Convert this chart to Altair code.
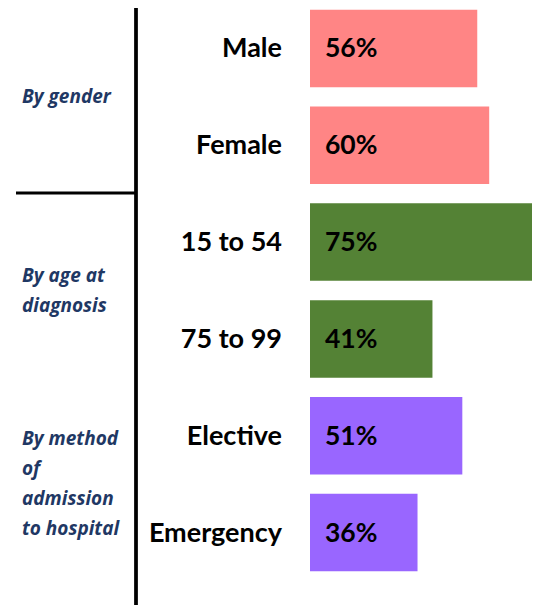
import altair as alt
import pandas as pd

# ---- data ----
categories = ["Male", "Female", "15 to 54", "75 to 99", "Elective", "Emergency"]
values = [56, 60, 75, 41, 51, 36]
groups = ["gender", "gender", "age", "age", "method", "method"]
group_ids = ["gender", "age", "method"]
group_labels = ["By gender", "By age at\ndiagnosis", "By method\nof\nadmission\nto hospital"]
group_colors = ["#FF8585", "#548235", "#9966FF"]

df = pd.DataFrame({"category": categories, "value": values, "group": groups})
df["label"] = [f"{v}%" for v in values]
gdf = pd.DataFrame({"group": group_ids, "glabel": group_labels})

W, H = 524, 597
FONT = "Lato"
GFONT = "Open Sans"
LINE_H = 30

yband = alt.Y("category:N", sort=categories, axis=None,
              scale=alt.Scale(domain=categories, range=[-8, 573],
                              paddingInner=0.2, paddingOuter=0.1))

bars = alt.Chart(df).mark_bar(cornerRadius=0).encode(
    x=alt.X("value:Q", axis=None, scale=alt.Scale(domain=[0, 75], range=[302, 526])),
    y=yband,
    color=alt.Color("group:N", legend=None,
                    scale=alt.Scale(domain=group_ids, range=group_colors)),
)

pct = alt.Chart(df).mark_text(align="left", baseline="middle", font=FONT,
                              fontWeight="bold", fontSize=26.5, color="black", dy=1).encode(
    x=alt.value(317),
    y=yband,
    text="label:N",
)

cats = alt.Chart(df).mark_text(align="right", baseline="middle", font=FONT,
                               fontWeight="bold", fontSize=27, color="black", dy=1).encode(
    x=alt.value(274),
    y=yband,
    text="category:N",
)

gscale = alt.Scale(domain=group_ids, range=[-8, 573], paddingInner=0, paddingOuter=0)


def group_layer(gid, nlines):
    return alt.Chart(gdf).transform_filter(alt.datum.group == gid).mark_text(
        align="left", baseline="middle", font=GFONT, fontWeight="bold",
        fontStyle="italic", fontSize=19, color="#1F3864", lineBreak="\n",
        lineHeight=LINE_H, dy=-(nlines - 1) * LINE_H / 2,
    ).encode(
        x=alt.value(14),
        y=alt.Y("group:N", sort=group_ids, axis=None, scale=gscale),
        text="glabel:N",
    )


glayers = [group_layer(g, lbl.count("\n") + 1) for g, lbl in zip(group_ids, group_labels)]

vline = alt.Chart(gdf).mark_rule(color="black", strokeWidth=3).encode(
    x=alt.value(128), y=alt.value(-8), y2=alt.value(H)
)
hline = alt.Chart(gdf).mark_rule(color="black", strokeWidth=3).encode(
    x=alt.value(8), x2=alt.value(128), y=alt.value(185)
).transform_filter(alt.datum.group == "gender")

chart = alt.layer(bars, pct, cats, vline, hline, *glayers).resolve_scale(
    y="independent"
).properties(
    width=W, height=H, padding=0, autosize=alt.AutoSizeParams(type="none")
).configure_view(stroke=None)

chart.save("out.html", embed_options={"renderer": "svg", "actions": False})
